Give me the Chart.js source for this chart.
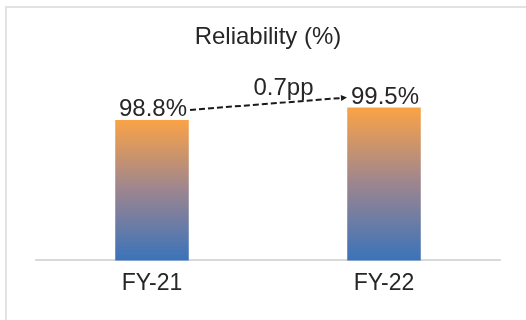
<!DOCTYPE html>
<html>
<head>
<meta charset="utf-8">
<script src="https://cdn.jsdelivr.net/npm/chart.js@4.4.1/dist/chart.umd.min.js"></script>
<style>
  html, body { margin: 0; padding: 0; background: #fff; }
  #wrap { position: relative; width: 526px; height: 320px; overflow: hidden; }
  #frame { position: absolute; left: 5px; top: 6px; width: 600px; height: 400px; border: 2px solid #e2e2e2; box-sizing: border-box; }
  canvas { position: absolute; left: 0; top: 0; }
</style>
</head>
<body>
<div id="wrap">
  <div id="frame"></div>
  <canvas id="chart" width="526" height="320"></canvas>
</div>
<script>
const categories = ['FY-21', 'FY-22'];
const reliability = [98.8, 99.5];
const changeLabel = '0.7pp';
const chartTitle = 'Reliability (%)';

const textColor = '#262626';
const fontFamily = '"Liberation Sans", Arial, sans-serif';

function barGradient(context) {
    const chart = context.chart;
    const area = chart.chartArea;
    if (!area || context.type !== 'data') return '#f9a145';
    const yScale = chart.scales.y;
    const top = yScale.getPixelForValue(context.raw);
    const bottom = yScale.getPixelForValue(yScale.min);
    const g = chart.ctx.createLinearGradient(0, top, 0, bottom);
    g.addColorStop(0, '#faa346');
    g.addColorStop(0.5, '#9c8590');
    g.addColorStop(1, '#3a73ba');
    return g;
}

// value labels + dashed arrow between them
const labelPlugin = {
    id: 'valueLabels',
    afterDatasetsDraw(chart) {
        const ctx = chart.ctx;
        const bars = chart.getDatasetMeta(0).data;
        ctx.save();
        ctx.font = '24px ' + fontFamily;
        ctx.fillStyle = textColor;
        ctx.textAlign = 'center';
        ctx.textBaseline = 'alphabetic';
        const boxes = [];
        bars.forEach((bar, i) => {
            const txt = reliability[i].toFixed(1) + '%';
            const w = ctx.measureText(txt).width;
            const baseY = bar.y - 4;
            ctx.fillText(txt, bar.x + 1, baseY);
            boxes.push({ left: bar.x + 1 - w / 2, right: bar.x + 1 + w / 2, y: baseY - 7 });
        });

        // arrow
        const x1 = boxes[0].right + 3, y1 = boxes[0].y + 1;
        const x2 = boxes[1].left - 4, y2 = boxes[1].y + 1;
        ctx.strokeStyle = '#1a1a1a';
        ctx.lineWidth = 2;
        ctx.setLineDash([6, 3]);
        ctx.beginPath();
        ctx.moveTo(x1, y1);
        ctx.lineTo(x2 - 4, y2 + 0.3);
        ctx.stroke();
        ctx.setLineDash([]);
        const ang = Math.atan2(y2 - y1, x2 - x1);
        ctx.fillStyle = '#1a1a1a';
        ctx.beginPath();
        ctx.moveTo(x2, y2);
        ctx.lineTo(x2 - 6 * Math.cos(ang) + 3 * Math.sin(ang), y2 - 6 * Math.sin(ang) - 3 * Math.cos(ang));
        ctx.lineTo(x2 - 6 * Math.cos(ang) - 3 * Math.sin(ang), y2 - 6 * Math.sin(ang) + 3 * Math.cos(ang));
        ctx.closePath();
        ctx.fill();

        // change label
        ctx.fillStyle = textColor;
        ctx.fillText(changeLabel, (x1 + x2) / 2 + 15, Math.min(y1, y2) - 3);
        ctx.restore();
    }
};

new Chart(document.getElementById('chart'), {
    type: 'bar',
    data: {
        labels: categories,
        datasets: [{
            data: reliability,
            backgroundColor: barGradient,
            borderWidth: 0,
            barPercentage: 0.317,
            categoryPercentage: 1
        }]
    },
    options: {
        responsive: false,
        animation: false,
        layout: { padding: { left: 36, right: 26, top: 0, bottom: 14 } },
        plugins: {
            legend: { display: false },
            tooltip: { enabled: false },
            title: {
                display: true,
                text: chartTitle,
                color: textColor,
                font: { family: fontFamily, size: 24, weight: 'normal' },
                padding: { top: 23, bottom: 47 }
            }
        },
        scales: {
            x: {
                grid: { display: false, drawTicks: false },
                border: { display: true, color: '#d9d9d9', width: 2 },
                ticks: {
                    color: textColor,
                    font: { family: fontFamily, size: 23 },
                    padding: 9
                }
            },
            y: {
                display: false,
                min: 90.8,
                max: 100
            }
        }
    },
    plugins: [labelPlugin]
});
</script>
</body>
</html>
